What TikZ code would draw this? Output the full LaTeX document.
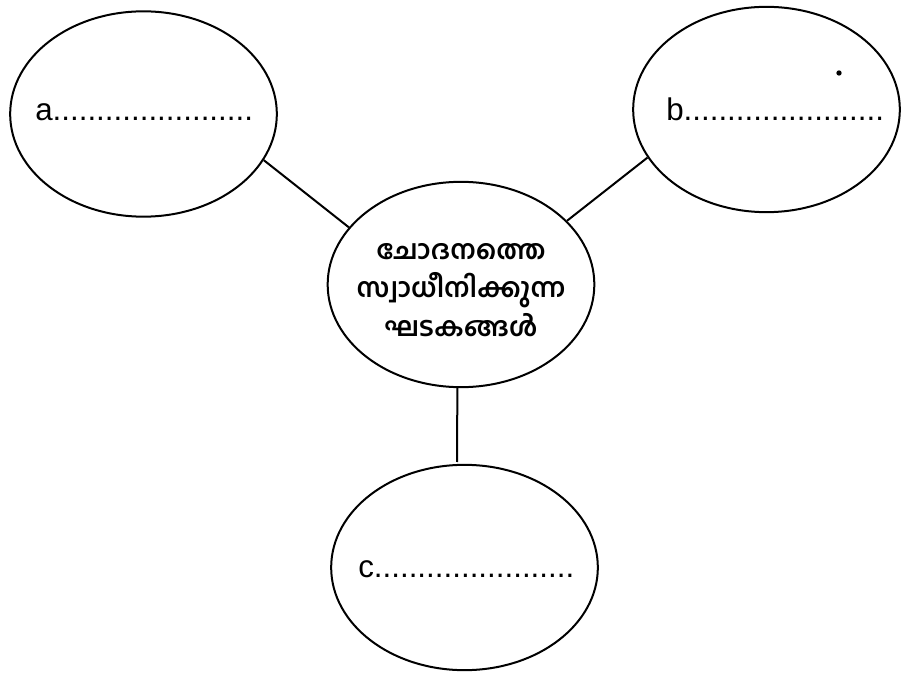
\documentclass[tikz,border=0pt]{standalone}
\usepackage{fontspec}
\setmainfont{Liberation Sans}
\newfontfamily\malfont[Script=Malayalam]{Hind Kochi}
\usepackage{tikz}
\usetikzlibrary{shapes.geometric}
\definecolor{ink}{HTML}{000000}
\tikzset{
  bub/.style={ellipse, draw=ink, line width=1.5pt, inner sep=0pt, minimum width=200pt, minimum height=154pt},
  link/.style={draw=ink, line width=1.5pt},
  lab/.style={anchor=base west, inner sep=0pt, text=ink, font=\fontsize{23.5}{28}\selectfont},
  hub/.style={text=ink, align=center, inner sep=0pt, font=\malfont\bfseries\fontsize{20}{29}\selectfont},
  dot/.style={circle, fill=ink, inner sep=0pt, minimum size=4pt},
}

\begin{document}
\begin{tikzpicture}[x=0.75pt,y=-0.75pt]
  \useasboundingbox (0,0) rectangle (907,677);
  % the four bubbles
  \node[bub] (ea) at (143.5,114) {};
  \node[bub] (eb) at (766.5,109.5) {};
  \node[bub] (ecen) at (461,284.5) {};
  \node[bub] (ec) at (464.5,567.5) {};
  \node[hub] (topic) at (461,290) {ചോദനത്തെ\\സ്വാധീനിക്കുന്ന\\ഘടകങ്ങൾ};
  % blanks to fill in
  \node[lab] (ta) at (35,121) {a.......................};
  \node[lab] (tb) at (666,121) {b.......................};
  \node[lab] (tc) at (358,577) {c.......................};
  \node[dot] (spot) at (839,73) {};
  % connectors
  \coordinate (tipc) at (457,462);
  \draw[link] (ea.-21.9) -- (ecen.153.2);
  \draw[link] (eb.-158.7) -- (ecen.31.3);
  \draw[link] (ecen.268) -- (tipc);
\end{tikzpicture}
\end{document}
